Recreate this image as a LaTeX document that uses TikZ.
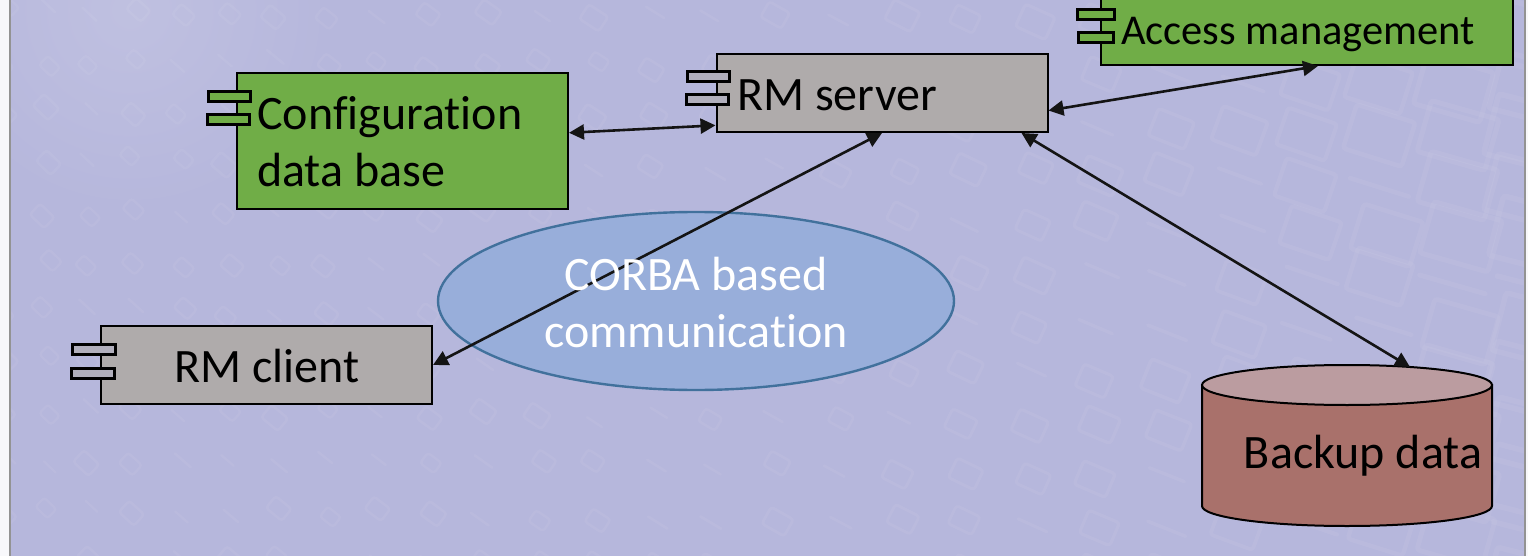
\documentclass[tikz,border=0pt]{standalone}
\usepackage{fontspec}
\setmainfont[Ligatures=NoCommon]{Carlito}
\usetikzlibrary{arrows.meta,shapes.geometric}
\definecolor{bgc}{HTML}{B6B7DC}
\definecolor{greenc}{HTML}{70AD47}
\definecolor{greyc}{HTML}{AFABAB}
\definecolor{dbc}{HTML}{A9716B}
\definecolor{dbtop}{HTML}{BB9CA0}
\definecolor{ellc}{HTML}{96AEDA}
\definecolor{elld}{HTML}{41719C}
\tikzset{
  x=1pt,y=-1pt,
  bigtext/.style={font=\fontsize{48}{57}\selectfont,text=black,inner sep=0pt},
  comp/.style={draw=black,line width=2pt,rectangle,inner sep=0pt},
  tabline/.style={draw=black,line width=3pt},
  link/.style={draw=black!92,line width=2.6pt,{Triangle[length=15pt,width=15pt]}-{Triangle[length=15pt,width=15pt]}},
  chip/.style={draw=white,opacity=0.055,rounded corners=3pt},
}
\begin{document}
\begin{tikzpicture}
\useasboundingbox (0,0) rectangle (1528,556);
\clip (0,0) rectangle (1528,556);
% background
\fill[bgc] (0,0) rectangle (1528,556);
\shade[inner color=bgc!87!white,outer color=bgc] (130,10) circle [radius=200];
\pgfmathsetseed{7}
\foreach \ix in {0,...,26}{\foreach \iy in {0,...,11}{
  \pgfmathsetmacro{\uu}{\ix/26}
  \pgfmathsetmacro{\px}{1528*(0.7*\uu+0.3*\uu*\uu)+rnd*10}
  \pgfmathsetmacro{\py}{5+\iy*50+rnd*12+0.12*\ix*\ix*0.3}
  \pgfmathsetmacro{\sz}{8+5.5*(\px/1000)^4+rnd*3}
  \pgfmathsetmacro{\ang}{-45+0.02*\px}
  \pgfmathsetmacro{\lw}{1.5+0.1*\sz}
  \pgfmathsetmacro{\kind}{rnd}
  \begin{scope}[shift={(\px,\py)},rotate=\ang]
    \ifdim\kind pt<0.35pt
      \draw[chip,line width=\lw pt,line cap=round] (-\sz,0) -- (\sz,0);
    \else
      \draw[chip,line width=\lw pt] (-\sz,-0.75*\sz) rectangle (\sz,0.75*\sz);
    \fi
  \end{scope}
}}
\fill[white!90!bgc] (0,0) rectangle (9,556);
\fill[white!90!bgc] (1526,0) rectangle (1528,556);
\fill[gray!85] (9,0) rectangle (11,556);
\fill[gray!85] (1524,0) rectangle (1526,556);

% component boxes
\node[comp,fill=greenc,minimum width=331pt,minimum height=136pt] (cfg) at (402.5,141.5) {};
\node[bigtext,align=left,anchor=north west] (cfgt) at (257,96.5) {Configuration\\data base};
\node[comp,fill=greyc,minimum width=331pt,minimum height=78pt] (srv) at (882,93) {};
\node[bigtext,anchor=base west] (srvt) at (737,110.5) {RM server};
\node[comp,fill=greenc,minimum width=412pt,minimum height=80pt] (acc) at (1307,25) {};
\node[bigtext,font=\fontsize{42.5}{50}\selectfont,anchor=base west] (acct) at (1121,44.5) {Access management};
\node[comp,fill=greyc,minimum width=331pt,minimum height=78pt] (cli) at (266.5,365) {};
\node[bigtext,anchor=base] (clit) at (267,382.5) {RM client};

% component tabs
\fill[greenc,tabline] (208,92) rectangle (250,102);
\fill[greenc,tabline] (207,115) rectangle (249,125);
\fill[greyc!65!bgc,tabline] (687,72) rectangle (729,82);
\fill[greyc!65!bgc,tabline] (686,95) rectangle (728,105);
\fill[greenc,tabline] (1077,10) rectangle (1114,20);
\fill[greenc,tabline] (1078,33) rectangle (1113,43);
\fill[greyc!65!bgc,tabline] (72,344) rectangle (115,354);
\fill[greyc!65!bgc,tabline] (71,368) rectangle (114,378);

% database
\node[minimum width=290pt,minimum height=161pt,inner sep=0pt] (db) at (1347,445.5) {};
\filldraw[fill=dbc,draw=black,line width=2pt] (1202,385) -- (1202,506) arc[start angle=180,end angle=360,x radius=145,y radius=-20] -- (1492,385) -- cycle;
\filldraw[fill=dbtop,draw=black,line width=2pt] (1347,385) ellipse [x radius=145,y radius=20];
\node[bigtext,anchor=base] (dbt) at (1363,468.5) {Backup data};
\coordinate (dbin) at (1410,367);

% ellipse
\node[ellipse,draw=elld,line width=2.4pt,fill=ellc,fill opacity=0.92,draw opacity=1,inner sep=0pt,minimum width=516pt,minimum height=178pt] (corba) at (696,301) {};

% connectors
\draw[link] (cfg.3) -- (srv.191);
\draw[link] (srv.-6.6) -- (acc.-75);
\draw[link] (cli.east) -- (srv.-90);
\draw[link] (srv.-16.8) -- (dbin);

\node[bigtext,text=white,align=center] (corbat) at (696,303) {CORBA based\\communication};
\end{tikzpicture}
\end{document}
